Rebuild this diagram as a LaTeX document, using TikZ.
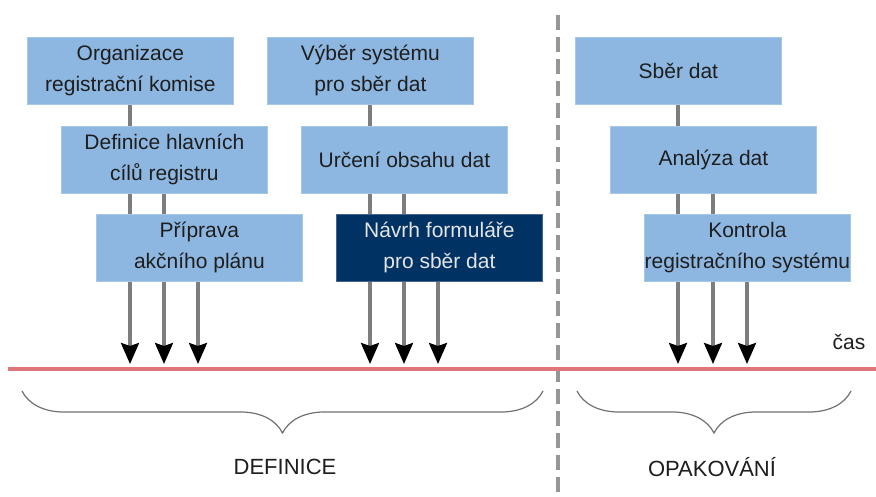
\documentclass[tikz,border=0pt]{standalone}
\usepackage{fontspec}
\setmainfont{Liberation Sans}
\usetikzlibrary{arrows.meta,decorations.pathreplacing}
\definecolor{boxblue}{RGB}{141,183,225}
\definecolor{boxedge}{RGB}{165,200,235}
\definecolor{boxdark}{RGB}{0,50,100}
\definecolor{darkedge}{RGB}{70,100,145}
\definecolor{linegray}{RGB}{125,125,125}
\definecolor{dashgray}{RGB}{150,150,150}
\definecolor{timered}{RGB}{222,118,124}
\definecolor{txt}{RGB}{30,30,30}
\begin{document}
\begin{tikzpicture}[x=1pt,y=-1pt,
  stepbox/.style={anchor=north west,fill=boxblue,draw=boxedge,line width=0.8pt,minimum width=206pt,minimum height=67pt,inner sep=0pt,align=center,text=txt,font=\fontsize{21}{31}\selectfont},
  darkbox/.style={stepbox,fill=boxdark,draw=darkedge,text=white!90!black},
  conn/.style={draw=linegray,line width=3.2pt},
  arr/.style={conn,-{Stealth[inset=3pt,width=18pt,length=21pt,color=black]}},
  brc/.style={draw=linegray!90!black,line width=1.2pt,decorate,decoration={brace,mirror,amplitude=42pt}},
  lbl/.style={font=\fontsize{21}{25}\selectfont,text=txt,inner sep=0pt}
]
\useasboundingbox (0,0) rectangle (876,497);
\fill[white] (0,0) rectangle (876,497);

% boxes
\node[stepbox] (b1) at (27,37) {Organizace\\registrační komise};
\node[stepbox] (b2) at (61,126) {Definice hlavních\\cílů registru};
\node[stepbox] (b3) at (96,214) {Příprava\\akčního plánu};
\node[stepbox] (b4) at (267,37) {Výběr systému\\pro sběr dat};
\node[stepbox] (b5) at (301,126) {Určení obsahu dat};
\node[darkbox] (b6) at (336,214) {Návrh formuláře\\pro sběr dat};
\node[stepbox] (b7) at (575,37) {Sběr dat};
\node[stepbox] (b8) at (610,126) {Analýza dat};
\node[stepbox] (b9) at (644,214) {Kontrola\\registračního systému};

% arrow end points
\coordinate (t1) at (130,364);
\coordinate (t2) at (164,364);
\coordinate (t3) at (198,364);
\coordinate (t4) at (370,364);
\coordinate (t5) at (404,364);
\coordinate (t6) at (438,364);
\coordinate (t7) at (678,364);
\coordinate (t8) at (713,364);
\coordinate (t9) at (747,364);

% connectors
\draw[conn] (b1.south -| t1) -- (b2.north -| t1);
\draw[conn] (b2.south -| t1) -- (b3.north -| t1);
\draw[conn] (b2.south -| t2) -- (b3.north -| t2);
\draw[conn] (b4.south -| t4) -- (b5.north -| t4);
\draw[conn] (b5.south -| t4) -- (b6.north -| t4);
\draw[conn] (b5.south -| t5) -- (b6.north -| t5);
\draw[conn] (b7.south -| t7) -- (b8.north -| t7);
\draw[conn] (b8.south -| t7) -- (b9.north -| t7);
\draw[conn] (b8.south -| t8) -- (b9.north -| t8);

\foreach \i in {1,2,3} \draw[arr] (b3.south -| t\i) -- (t\i);
\foreach \i in {4,5,6} \draw[arr] (b6.south -| t\i) -- (t\i);
\foreach \i in {7,8,9} \draw[arr] (b9.south -| t\i) -- (t\i);

% separator and time axis
\coordinate (sepA) at (558,15);
\coordinate (sepB) at (558,497);
\draw[dashgray,line width=4.5pt,dash pattern=on 15pt off 7pt] (sepA) -- (sepB);
\coordinate (axA) at (8,369);
\coordinate (axB) at (876,369);
\draw[timered,line width=4.5pt] (axA) -- (axB);
\node[lbl] (cas) at (849,342) {čas};

% braces
\coordinate (brA1) at (22,391);
\coordinate (brA2) at (543,391);
\coordinate (brB1) at (577,391);
\coordinate (brB2) at (851,391);
\draw[brc] (brA1) -- (brA2);
\draw[brc] (brB1) -- (brB2);
\node[lbl,font=\fontsize{22}{26}\selectfont] (def) at (285,467) {DEFINICE};
\node[lbl,font=\fontsize{22}{26}\selectfont] (opa) at (712,467) {OPAKOVÁNÍ};
\end{tikzpicture}
\end{document}
